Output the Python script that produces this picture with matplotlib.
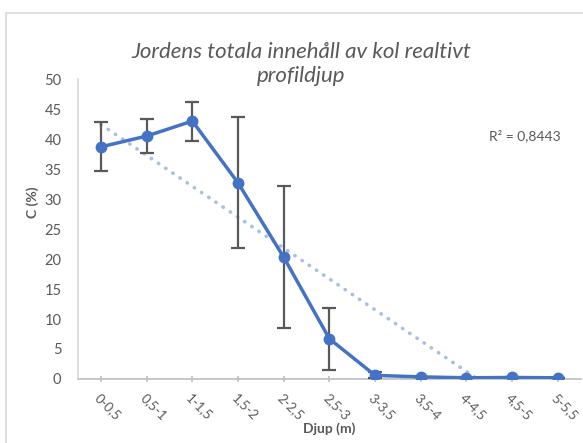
import numpy as np
import matplotlib.pyplot as plt
from matplotlib.patches import Rectangle

# Kategorier och värden
djup = ["0-0,5", "0,5-1", "1-1,5", "1,5-2", "2-2,5", "2,5-3",
        "3-3,5", "3,5-4", "4-4,5", "4,5-5", "5-5,5"]
kol = [38.7, 40.5, 43.0, 32.7, 20.3, 6.7, 0.6, 0.35, 0.2, 0.25, 0.2]
fel = [4.1, 2.9, 3.25, 10.9, 11.8, 5.2, 0.5, 0, 0, 0, 0]

plt.rcParams['font.family'] = ['Lato', 'DejaVu Sans']

fig = plt.figure(figsize=(5.83, 4.43), dpi=100)
ax = fig.add_axes([0.134, 0.1445, 0.862, 0.677])

x = np.arange(len(djup))

# Linjär trendlinje (som i Excel), klippt vid 0
k, m = np.polyfit(x, kol, 1)
x0 = -m / k
xt = np.linspace(0, x0, 50)
ax.plot(xt, k * xt + m, color="#A9BEE4", lw=2.6, linestyle=(0, (0.1, 2.3)),
        dash_capstyle="round", zorder=2)

ax.errorbar(x, kol, yerr=fel, fmt="none", ecolor="#595959", elinewidth=1.6,
            capsize=5, capthick=1.6, zorder=3)
ax.plot(x, kol, color="#4472C4", lw=2.5, marker="o", markersize=7.5, zorder=4)

ax.set_xlim(-0.5, len(djup) - 0.5)
ax.set_ylim(0, 50)
ax.set_yticks(range(0, 51, 5))
ax.set_xticks(x)
ax.set_xticklabels(djup, rotation=-45, ha="left", va="top",
                   rotation_mode="anchor", fontsize=9.5, color="#595959")
ax.tick_params(axis="y", length=0, labelsize=10.5, labelcolor="#595959", pad=12)
ax.tick_params(axis="x", length=4, direction="inout", color="#BFBFBF", width=1.2, pad=7)

for s in ["top", "right"]:
    ax.spines[s].set_visible(False)
ax.spines["bottom"].set_color("#BFBFBF")
ax.spines["bottom"].set_linewidth(1.2)
ax.spines["left"].set_color("#D9D9D9")
ax.spines["left"].set_linewidth(1.2)

ax.set_xlabel("Djup (m)", fontsize=10, fontweight="bold", color="#595959", labelpad=0)
ax.set_ylabel("C (%)", fontsize=10, fontweight="bold", color="#595959")
ax.yaxis.set_label_coords(-0.078, 0.59)

fig.text(0.516, 0.855, "Jordens totala innehåll av kol realtivt\nprofildjup",
         ha="center", va="center", fontsize=16, style="italic",
         color="#595959", linespacing=1.25)

ax.text(8.5, 40.5, "R² = 0,8443", fontsize=10, color="#595959", ha="left", va="center")

# diagramramen (bara vänster- och överkant syns i bilden)
fig.patches.append(Rectangle((0.0103, -0.05), 1.05, 1.0207, transform=fig.transFigure,
                             fill=False, edgecolor="#D9D9D9", lw=1.2))

fig.savefig("out.png", dpi=100)
